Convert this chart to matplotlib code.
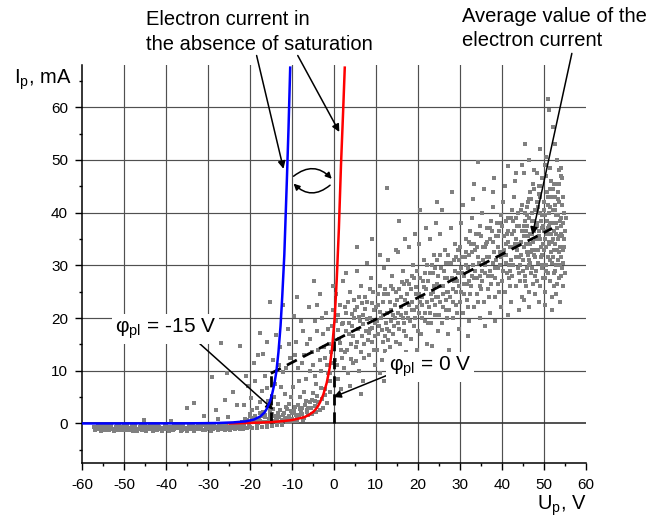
import matplotlib
matplotlib.use('Agg')
import matplotlib.pyplot as plt
import numpy as np

plt.rcParams['font.family'] = ['Liberation Sans', 'DejaVu Sans']
plt.rcParams['mathtext.fontset'] = 'custom'
plt.rcParams['mathtext.rm'] = 'Liberation Sans'
plt.rcParams['mathtext.it'] = 'Liberation Sans:italic'
plt.rcParams['axes.unicode_minus'] = False

# probe current vs probe voltage
# flat part below zero
cloud_flat = [
    (-57.2, -0.6), (-56.5, -1.1), (-56.0, -0.3), (-55.4, -1.4), (-54.8, -0.8), (-54.1, -0.2), (-53.6, -1.2),
    (-53.0, -0.6), (-52.3, -1.5), (-51.7, -0.4), (-51.1, -1.0), (-50.4, -0.7), (-49.8, -1.3), (-49.2, -0.3),
    (-48.5, -0.9), (-47.9, -1.5), (-47.3, -0.5), (-46.6, -1.1), (-46.0, -0.2), (-45.4, -0.8), (-44.7, -1.4),
    (-44.1, -0.6), (-43.5, -1.0), (-42.8, -0.3), (-42.2, -1.2), (-41.6, -0.7), (-40.9, -1.5), (-40.3, -0.4),
    (-39.7, -1.0), (-39.0, -0.6), (-38.4, -1.3), (-37.8, -0.2), (-37.1, -0.9), (-36.5, -1.4), (-35.9, -0.5),
    (-35.2, -1.1), (-34.6, -0.3), (-34.0, -0.8), (-33.3, -1.4), (-32.7, -0.6), (-32.1, -1.0), (-31.4, -0.2),
    (-30.8, -1.2), (-30.2, -0.7), (-29.5, -0.4), (-28.9, -1.1), (-28.3, -0.6), (-27.6, -1.3), (-27.0, -0.3),
    (-26.4, -0.9), (-25.7, -0.5), (-25.1, -1.0), (-24.5, -0.2), (-23.8, -0.7), (-23.2, 0.1), (-22.6, -0.4),
    (-56.8, -0.9), (-55.0, -0.5), (-53.3, -0.9), (-51.4, -1.3), (-49.5, -0.6), (-47.6, -1.0), (-45.7, -1.3),
    (-43.8, -0.4), (-42.0, -0.8), (-40.0, -1.1), (-38.1, -0.5), (-36.2, -1.2), (-34.3, -1.1), (-32.4, -0.3),
    (-30.5, -1.0), (-28.6, -0.9), (-26.7, -1.1), (-24.8, -0.6), (-23.5, -1.0),
    (-57.0, -1.2), (-56.3, -0.5), (-55.7, -0.9), (-55.1, -0.2), (-54.5, -1.3), (-53.9, -0.7), (-53.2, -0.3),
    (-52.6, -1.0), (-52.0, -0.6), (-51.3, -0.2), (-50.7, -1.2), (-50.1, -0.4), (-49.4, -0.9), (-48.8, -1.2),
    (-48.2, -0.4), (-47.5, -0.7), (-46.9, -1.4), (-46.3, -0.6), (-45.6, -1.0), (-45.0, -0.4), (-44.4, -1.1),
    (-43.7, -0.8), (-43.1, -1.4), (-42.5, -0.6), (-41.9, -0.3), (-41.2, -1.0), (-40.6, -0.8), (-40.0, -0.3),
    (-39.3, -1.4), (-38.7, -0.8), (-38.1, -1.0), (-37.4, -0.6), (-36.8, -0.3), (-36.2, -0.8), (-35.5, -0.9),
    (-34.9, -1.4), (-34.3, -0.6), (-33.6, -0.3), (-33.0, -1.1), (-32.4, -0.9), (-31.7, -0.6), (-31.1, -1.3),
    (-30.5, -0.4), (-29.8, -0.9), (-29.2, -1.4), (-28.6, -0.3), (-27.9, -0.8), (-27.3, -0.5), (-26.7, -0.4),
    (-26.0, -1.2), (-25.4, -0.7), (-24.8, -1.3), (-24.2, -0.9), (-23.6, -0.4), (-23.0, -0.8), (-22.4, -1.1),
    (-21.8, -0.2), (-21.1, -0.8), (-20.5, 0.2), (-19.9, -0.6),
    (-45.2, 0.6), (-38.7, 0.4), (-33.4, 3.9), (-34.9, 3.0), (-27.5, 0.8), (-25.3, 1.2), (-29.0, 8.9),
    (-26.9, 15.3), (-31.0, 1.5), (-28.0, 2.5), (-26.0, 4.5), (-24.0, 6.0), (-22.3, 14.6), (-25.5, 9.5),
]
# knee region
cloud_knee = [
    (-22.0, 0.3), (-21.4, -0.5), (-20.8, 0.6), (-20.2, -0.2), (-19.6, 1.0), (-19.0, 0.2), (-18.4, -0.4),
    (-17.8, 0.8), (-17.2, 1.5), (-16.6, 0.3), (-16.0, -0.3), (-15.4, 0.9), (-14.8, 1.8), (-14.2, 0.4),
    (-13.6, -0.2), (-13.0, 1.2), (-12.4, 0.6), (-11.8, 2.0), (-11.2, 0.2), (-10.6, 1.4), (-10.0, 0.8),
    (-9.4, 2.4), (-8.8, 0.5), (-8.2, 1.7), (-7.6, 3.0), (-7.0, 1.1), (-6.4, 2.6), (-5.8, 4.0), (-5.2, 1.8),
    (-4.6, 3.4), (-4.0, 5.2), (-3.4, 2.6), (-2.8, 4.6), (-2.2, 6.5), (-1.6, 3.8), (-1.0, 8.0),
    (-21.5, 3.5), (-20.5, 7.2), (-19.8, 4.8), (-19.0, 11.5), (-18.3, 3.0), (-17.5, 17.1), (-17.0, 6.2),
    (-16.3, 9.0), (-15.8, 4.2), (-15.1, 23.1), (-14.6, 12.0), (-14.0, 7.5), (-13.4, 3.6), (-12.8, 14.5),
    (-12.2, 9.8), (-11.6, 5.5), (-11.0, 18.0), (-10.4, 12.5), (-9.8, 7.0), (-9.6, 20.3), (-9.0, 15.5),
    (-8.5, 10.5), (-8.0, 5.0), (-7.4, 17.5), (-7.0, 13.0), (-6.6, 8.5), (-6.0, 22.0), (-5.6, 16.0),
    (-5.0, 11.0), (-4.6, 19.5), (-4.2, 7.5), (-3.8, 14.0), (-3.2, 24.5), (-3.0, 10.0), (-2.5, 17.0),
    (-2.0, 12.5), (-1.8, 21.0), (-1.2, 15.0), (-0.8, 9.5), (-0.4, 18.5), (-0.2, 26.0), (-13.8, 16.8),
    (-18.8, 8.0), (-16.8, 13.2), (-10.8, 3.6), (-6.2, 3.0), (-8.7, 24.0), (-4.8, 27.0), (-12.0, 22.5),
    (-19.3, 0.6), (-18.7, 1.5), (-18.1, 0.1), (-17.5, 0.5), (-16.9, 2.2), (-16.3, 1.2), (-15.7, 0.2),
    (-15.1, 1.6), (-14.5, 2.8), (-13.9, 0.9), (-13.3, 2.0), (-12.7, 0.3), (-12.1, 1.6), (-11.5, 3.2),
    (-10.9, 1.0), (-10.3, 2.4), (-9.7, 0.4), (-9.1, 1.6), (-8.5, 3.5), (-7.9, 2.2), (-7.3, 0.7), (-6.7, 4.2),
    (-6.1, 1.6), (-5.5, 2.9), (-4.9, 5.8), (-4.3, 2.2), (-3.7, 4.0), (-3.1, 6.8), (-2.6, 3.0), (-2.0, 5.4),
    (-1.4, 9.5), (-0.8, 6.0), (-0.3, 11.5),
    (-19.5, 2.5), (-17.7, 4.0), (-16.0, 6.8), (-14.3, 5.0), (-12.6, 7.0), (-11.3, 10.5), (-10.1, 5.0),
    (-9.3, 13.0), (-8.2, 8.0), (-7.7, 11.5), (-7.1, 6.0), (-6.4, 15.0), (-5.8, 10.0), (-5.3, 13.5),
    (-4.4, 9.0), (-3.9, 17.5), (-3.4, 12.0), (-2.9, 20.0), (-2.3, 14.5), (-1.7, 11.0), (-1.3, 18.0),
    (-0.7, 13.5), (-0.1, 21.5), (-4.0, 22.5), (-7.8, 19.5), (-10.7, 15.0), (-13.1, 11.0), (-15.9, 15.5),
    (-18.0, 13.0), (-21.0, 9.0), (-23.0, 3.5), (-20.0, 1.8),
    (-21.7, -1.0), (-21.2, 0.9), (-20.6, -0.9), (-19.9, 1.5), (-19.4, -0.8), (-18.9, 0.9), (-18.3, -0.9),
    (-17.6, 2.0), (-17.0, -0.7), (-16.4, 1.7), (-15.9, -0.6), (-15.3, 2.4), (-14.7, -0.5), (-14.0, 1.4),
    (-13.5, 0.5), (-12.9, 2.6), (-12.3, -0.3), (-11.7, 1.0), (-11.1, 2.8), (-10.5, 0.2), (-9.9, 1.9),
    (-9.3, 3.2), (-8.7, 1.3), (-8.1, 2.7), (-7.5, 1.8), (-6.9, 3.5), (-6.3, 2.2), (-5.7, 3.0), (-5.1, 4.5),
    (-4.5, 4.2),
]
# main cloud after the knee
cloud_main = [
    (0.3, 12.0), (0.6, 19.5), (0.9, 8.5), (1.2, 16.0), (1.5, 22.5), (1.8, 14.0), (2.1, 27.0), (2.4, 10.5),
    (0.5, 24.5), (1.0, 17.8), (1.7, 6.5), (2.2, 19.0),
    (2.7, 13.5), (3.0, 21.0), (3.3, 9.5), (3.6, 17.0), (3.9, 25.0), (4.2, 15.0), (4.5, 11.5), (4.8, 20.0),
    (2.9, 28.5), (3.8, 7.2), (4.4, 18.5), (4.9, 23.5),
    (5.2, 14.5), (5.5, 22.0), (5.8, 18.0), (6.1, 10.0), (6.4, 26.0), (6.7, 16.5), (7.0, 20.5), (7.3, 12.5),
    (5.4, 29.0), (6.2, 19.5), (6.9, 8.0), (7.4, 24.0),
    (7.7, 17.5), (8.0, 23.0), (8.3, 13.0), (8.6, 20.0), (8.9, 27.5), (9.2, 15.5), (9.5, 21.5), (9.8, 11.0),
    (7.9, 30.5), (8.7, 18.0), (9.4, 25.0), (9.9, 19.0),
    (10.2, 14.0), (10.5, 22.5), (10.8, 18.5), (11.1, 26.0), (11.4, 12.0), (11.7, 20.5), (12.0, 29.5),
    (12.3, 16.5), (10.4, 24.5), (11.0, 9.5), (11.8, 23.0), (12.4, 19.0), (10.9, 32.0), (11.6, 15.5),
    (12.7, 18.0), (13.0, 24.5), (13.3, 14.5), (13.6, 21.5), (13.9, 28.0), (14.2, 17.0), (14.5, 22.5),
    (14.8, 12.5), (12.9, 31.0), (13.5, 19.5), (14.0, 25.5), (14.6, 20.0), (13.2, 10.5), (14.9, 33.0),
    (15.2, 19.0), (15.5, 25.5), (15.8, 15.0), (16.1, 22.0), (16.4, 29.0), (16.7, 17.5), (17.0, 23.5),
    (17.3, 13.5), (15.4, 32.5), (16.0, 20.5), (16.6, 26.5), (17.2, 21.0), (15.9, 11.5), (16.9, 35.0),
    (17.7, 20.0), (18.0, 26.5), (18.3, 16.0), (18.6, 23.0), (18.9, 30.0), (19.2, 18.5), (19.5, 24.5),
    (19.8, 14.0), (17.9, 33.5), (18.5, 21.5), (19.1, 27.5), (19.7, 22.0), (18.2, 12.5), (19.4, 36.0),
    (20.2, 21.0), (20.5, 27.5), (20.8, 17.0), (21.1, 24.0), (21.4, 31.0), (21.7, 19.5), (22.0, 25.5),
    (22.3, 15.0), (20.4, 34.0), (21.0, 22.5), (21.6, 28.5), (22.2, 23.0), (20.7, 13.0), (21.9, 37.0),
    (22.7, 22.0), (23.0, 28.5), (23.4, 14.6), (23.6, 25.0), (23.9, 32.0), (24.2, 20.5), (24.5, 26.5),
    (24.8, 17.5), (22.9, 35.0), (23.5, 23.5), (24.1, 29.5), (24.7, 24.0), (23.2, 19.0), (24.4, 38.0),
    (25.2, 23.0), (25.5, 29.5), (25.8, 19.0), (26.1, 26.0), (26.4, 33.0), (26.7, 21.5), (27.0, 27.5),
    (27.3, 17.0), (25.4, 36.0), (26.0, 24.5), (26.6, 30.5), (27.2, 25.0), (25.7, 40.5), (26.9, 20.0),
    (27.7, 24.0), (28.0, 30.5), (28.3, 20.0), (28.6, 27.0), (28.9, 34.0), (29.2, 22.5), (29.5, 28.5),
    (29.8, 18.0), (27.9, 37.0), (28.5, 25.5), (29.1, 31.5), (29.7, 26.0), (28.2, 44.0), (29.4, 21.0),
    (30.2, 25.0), (30.5, 31.5), (30.8, 21.0), (31.1, 28.0), (31.4, 35.0), (31.7, 23.5), (32.0, 29.5),
    (32.3, 19.5), (30.4, 38.0), (31.0, 26.5), (31.6, 32.5), (32.2, 27.0), (30.7, 41.5), (31.9, 22.0),
    (30.1, 33.5), (32.4, 36.5),
    (32.7, 26.0), (33.0, 32.5), (33.3, 22.0), (33.6, 29.0), (33.9, 36.0), (34.2, 24.5), (34.5, 30.5),
    (34.8, 20.0), (32.9, 39.0), (33.5, 27.5), (34.1, 33.5), (34.7, 28.0), (33.2, 42.5), (34.4, 23.0),
    (32.6, 34.0), (34.9, 37.5),
    (35.2, 27.0), (35.5, 33.5), (35.8, 23.0), (36.1, 30.0), (36.4, 37.0), (36.7, 25.5), (37.0, 31.5),
    (37.3, 21.0), (35.4, 40.0), (36.0, 28.5), (36.6, 34.5), (37.2, 29.0), (35.7, 44.5), (36.9, 24.0),
    (35.1, 35.5), (37.4, 38.5),
    (37.7, 28.0), (38.0, 34.5), (38.3, 24.0), (38.6, 31.0), (38.9, 38.0), (39.2, 26.5), (39.5, 32.5),
    (39.8, 22.0), (37.9, 41.0), (38.5, 29.5), (39.1, 35.5), (39.7, 30.0), (38.2, 46.5), (39.4, 25.0),
    (37.6, 36.5), (39.9, 39.5),
    (40.2, 29.0), (40.5, 35.5), (40.8, 25.0), (41.1, 32.0), (41.4, 39.0), (41.7, 27.5), (42.0, 33.5),
    (42.3, 23.0), (40.4, 42.0), (41.0, 30.5), (41.6, 36.5), (42.2, 31.0), (40.7, 45.0), (41.9, 26.0),
    (40.1, 37.5), (42.4, 40.5), (41.3, 28.5), (40.9, 34.0),
    (42.7, 30.0), (43.0, 36.5), (43.3, 26.0), (43.6, 33.0), (43.9, 40.0), (44.2, 28.5), (44.5, 34.5),
    (44.8, 24.0), (42.9, 43.0), (43.5, 31.5), (44.1, 37.5), (44.7, 32.0), (43.2, 46.0), (44.4, 27.0),
    (42.6, 38.5), (44.9, 41.5), (43.8, 29.5), (43.4, 35.0),
    (45.1, 31.0), (45.3, 37.5), (45.5, 27.0), (45.7, 34.0), (45.9, 41.0), (46.1, 29.5), (46.3, 35.5),
    (46.5, 25.0), (46.7, 44.0), (46.9, 32.5), (47.1, 38.5), (47.3, 33.0), (45.2, 47.5), (45.6, 28.0),
    (46.0, 39.5), (46.4, 42.5), (46.8, 30.5), (47.2, 36.0), (47.4, 26.5), (45.4, 23.5), (45.8, 36.5),
    (46.2, 32.0), (46.6, 39.0), (47.0, 28.5), (46.4, 50.0),
    (47.6, 32.0), (47.8, 38.5), (48.0, 28.0), (48.2, 35.0), (48.4, 42.0), (48.6, 30.5), (48.8, 36.5),
    (49.0, 26.0), (49.2, 45.0), (49.4, 33.5), (49.6, 39.5), (49.8, 34.0), (47.7, 48.0), (48.1, 29.0),
    (48.5, 40.5), (48.9, 43.5), (49.3, 31.5), (49.7, 37.0), (49.9, 27.5), (47.9, 24.5), (48.3, 37.5),
    (48.7, 33.0), (49.1, 40.0), (49.5, 29.5), (49.0, 52.0),
    (50.1, 33.0), (50.3, 39.5), (50.5, 29.0), (50.7, 36.0), (50.9, 43.0), (51.1, 31.5), (51.3, 37.5),
    (51.5, 27.0), (51.7, 46.0), (51.9, 34.5), (52.1, 40.5), (52.3, 35.0), (50.2, 49.0), (50.6, 30.0),
    (51.0, 41.5), (51.4, 44.5), (51.8, 32.5), (52.2, 38.0), (52.4, 28.5), (50.4, 25.0), (50.8, 38.5),
    (51.2, 34.0), (51.6, 41.0), (52.0, 30.5), (51.0, 61.5), (51.3, 59.5), (50.5, 47.0), (51.9, 24.0),
    (52.4, 45.5), (50.0, 36.5),
    (52.6, 34.0), (52.8, 40.5), (53.0, 30.0), (53.2, 37.0), (53.4, 44.0), (53.6, 32.5), (53.8, 38.5),
    (54.0, 28.0), (54.2, 47.0), (54.4, 35.5), (52.7, 41.5), (52.9, 36.0), (53.1, 50.0), (53.3, 31.0),
    (53.5, 42.5), (53.7, 45.5), (53.9, 33.5), (54.1, 39.0), (54.3, 29.5), (52.5, 26.0), (52.9, 39.5),
    (53.3, 35.0), (53.7, 42.0), (54.1, 31.5), (54.5, 43.0), (54.6, 38.0), (54.8, 33.5), (53.0, 24.5),
    (54.0, 48.5), (52.8, 53.0),
    (12.7, 44.6), (34.4, 49.6), (41.4, 48.8), (44.8, 49.1), (45.5, 53.1), (52.1, 56.2),
]
# extra points in the densest part of the band
cloud_core = [
    (0.8, 11.0), (1.4, 15.2), (2.0, 18.8), (2.6, 22.0), (3.1, 14.0), (3.5, 19.0), (4.0, 12.2), (4.6, 16.5),
    (5.0, 21.5), (5.6, 15.5), (6.0, 24.0), (6.5, 13.5), (6.9, 18.8), (7.5, 21.8), (8.1, 15.8), (8.5, 25.5),
    (9.0, 18.2), (9.6, 14.0), (10.0, 22.0), (10.6, 17.0), (11.2, 20.0), (11.9, 24.5), (12.2, 13.8),
    (12.6, 21.0), (13.1, 17.5), (13.7, 26.0), (14.1, 20.5), (14.7, 15.5), (15.0, 23.5), (15.6, 18.0),
    (16.2, 26.8), (16.5, 20.0), (17.1, 16.5), (17.5, 24.5), (18.1, 19.5), (18.7, 28.0), (19.0, 21.5),
    (19.6, 25.8), (20.0, 17.5), (20.6, 23.0), (21.2, 27.0), (21.8, 21.0), (22.1, 30.0), (22.5, 19.0),
    (23.1, 24.5), (23.7, 28.5), (24.0, 22.5), (24.6, 31.0), (25.0, 20.5), (25.6, 26.0), (26.2, 29.0),
    (26.8, 23.5), (27.1, 32.0), (27.5, 21.5), (28.1, 27.5), (28.7, 31.0), (29.0, 25.0), (29.6, 33.0),
    (30.0, 23.0), (30.6, 28.5), (31.2, 31.5), (31.8, 26.5), (32.1, 34.5), (32.5, 24.5), (33.1, 30.0),
    (33.7, 33.0), (34.0, 27.5), (34.6, 36.0), (35.0, 25.5), (35.6, 31.0), (36.2, 34.0), (36.8, 28.0),
    (37.1, 37.0), (37.5, 26.5), (38.1, 32.5), (38.7, 35.5), (39.0, 29.5), (39.6, 38.0), (40.0, 27.0),
    (40.6, 33.0), (41.2, 36.0), (41.8, 30.0), (42.1, 39.0), (42.5, 28.0), (43.1, 34.0), (43.7, 37.5),
    (44.0, 31.5), (44.6, 40.5), (45.0, 29.0), (45.3, 35.5), (45.6, 38.5), (45.9, 32.5), (46.2, 42.0),
    (46.5, 30.0), (46.8, 36.0), (47.1, 40.0), (47.4, 34.5), (47.7, 44.5), (48.0, 31.5), (48.3, 38.0),
    (48.6, 41.0), (48.9, 35.5), (49.2, 43.0), (49.5, 32.0), (49.8, 37.5), (50.1, 40.5), (50.4, 35.0),
    (50.7, 44.0), (51.0, 28.5), (51.3, 34.5), (51.6, 38.0), (51.9, 43.0), (52.2, 31.5), (52.5, 36.5),
    (52.8, 45.5), (53.1, 33.0), (53.4, 39.5), (53.7, 27.5), (54.0, 36.0), (54.3, 41.5), (54.6, 30.5),
    (54.9, 35.0), (55.2, 39.0), (55.0, 28.5), (54.4, 46.5), (53.6, 48.0), (52.6, 43.0), (51.5, 48.5),
    (50.6, 50.5), (49.6, 46.5), (48.4, 47.5), (47.4, 45.5), (50.2, 22.5), (52.0, 21.5), (53.8, 23.0),
    (48.8, 23.0), (46.4, 22.0), (44.2, 21.5), (41.5, 20.5), (38.5, 19.5),
    (5.5, 33.5), (9.0, 35.0), (15.5, 38.5), (20.5, 40.5), (24.5, 42.0), (33.5, 45.5), (38.0, 44.0),
    (43.5, 47.5), (6.5, 5.5), (12.0, 8.0), (18.5, 10.0), (27.5, 14.0), (32.0, 16.5), (36.0, 18.5),
    (45.2, 33.5), (45.5, 40.0), (45.8, 26.0), (46.1, 37.5), (46.4, 31.0), (46.7, 34.0), (47.0, 42.5),
    (47.3, 29.5), (47.6, 36.5), (47.9, 40.5), (48.2, 33.0), (48.5, 27.0), (48.8, 45.0), (49.1, 35.0),
    (49.4, 38.5), (49.7, 30.0), (50.0, 42.0), (50.3, 27.5), (50.6, 33.5), (50.9, 37.0), (51.2, 40.0),
    (51.5, 31.0), (51.8, 36.0), (52.1, 44.5), (52.4, 33.0), (52.7, 29.0), (53.0, 38.0), (53.3, 42.5),
    (53.6, 35.5), (53.9, 30.0), (54.2, 37.5), (54.5, 33.0), (54.8, 40.0), (53.2, 26.5), (54.7, 26.0),
    (55.1, 36.5),
    (1.1, 20.5), (1.9, 12.5), (2.8, 17.5), (3.4, 23.0), (4.3, 20.8), (5.3, 11.8), (5.9, 20.2), (6.6, 22.8),
    (7.2, 15.0), (7.8, 19.8), (8.4, 17.2), (9.1, 22.8), (9.7, 16.5), (10.3, 19.5), (10.9, 21.2),
    (11.5, 17.8), (12.1, 25.5), (12.8, 15.8), (13.4, 23.0), (14.3, 18.5), (14.9, 25.0), (15.3, 21.0),
    (15.9, 24.0), (16.8, 19.0), (17.4, 27.0), (17.9, 22.5), (18.4, 25.5), (19.3, 20.0), (19.9, 29.0),
    (20.3, 24.5), (20.9, 20.0), (21.5, 25.8), (22.4, 27.0), (22.9, 21.0), (23.3, 30.0), (23.8, 26.0),
    (24.3, 24.0), (24.9, 28.0), (25.3, 32.0), (25.9, 22.0), (26.5, 27.5), (27.0, 25.0), (27.6, 30.5),
    (28.4, 23.0), (28.8, 29.0), (29.3, 27.0), (29.9, 31.0), (30.3, 29.5), (30.9, 24.5), (31.5, 30.0),
    (32.2, 32.0), (32.8, 28.0), (33.4, 34.0), (34.3, 31.5), (34.8, 26.0), (35.3, 29.0), (35.9, 33.5),
    (36.5, 31.5), (37.3, 35.0), (37.8, 30.5), (38.4, 27.5), (39.0, 33.5), (39.3, 36.5), (39.9, 31.5),
    (40.3, 32.0), (40.9, 38.5), (41.5, 34.5), (42.0, 29.0), (42.4, 36.0), (42.9, 33.5), (43.3, 39.0),
    (43.9, 34.0), (44.3, 30.0), (44.9, 36.5),
]

# exponential branches (electron current without saturation)
blue_u = [-60, -35, -28, -24, -21, -19, -17.5, -16.5, -15.9, -15.2, -14.7, -14.2, -13.7, -13.2, -12.7,
          -12.3, -11.8, -11.2, -10.8, -10.4]
blue_i = [0, 0.02, 0.08, 0.2, 0.4, 0.75, 1.35, 2.1, 2.9, 4.2, 5.6, 7.4, 9.8, 13.5, 18.5,
          24, 32, 46, 56, 67.5]
red_u = [-25, -20, -15, -12, -10, -8.8, -7, -6, -4.9, -4, -3.3, -2.5, -1.7, -1, -0.4, 0.2, 0.7, 1.2,
         1.7, 2.2, 2.6]
red_i = [0.02, 0.1, 0.25, 0.45, 0.65, 0.85, 1.2, 1.6, 2.2, 3.0, 4.0, 5.5, 7.7, 10.5, 14.5, 20, 27.5, 37,
         49, 59, 67.5]

# average electron current
avg_u = [-15, 52]
avg_i = [9.5, 37]

# plasma potential marks
phi_u = [-15, 0]
phi_top = [9.5, 15.6]

W, H = 654, 517


def fx(x):
    return x / W


def fy(y):
    return 1 - y / H


fig = plt.figure(figsize=(W / 100, H / 100), dpi=100)
ax = fig.add_axes([fx(82), fy(463), fx(585.7) - fx(82), fy(65) - fy(463)])
ax.set_xlim(-60, 60)
ax.set_ylim(-7.5, 68)

# grid
for u in np.arange(-50, 51, 10):
    ax.axvline(u, color='#505050', lw=0.85, zorder=0)
for i in np.arange(10, 61, 10):
    ax.axhline(i, color='#505050', lw=0.85, zorder=0)
ax.axhline(0, color='#333333', lw=1.2, zorder=0)

cu, ci = zip(*(cloud_flat + cloud_knee + cloud_main + cloud_core))
ax.scatter(cu, ci, s=8, marker='s', c='#808080', linewidths=0, zorder=2)

ax.plot(avg_u, avg_i, color='k', lw=2, dashes=(4, 2.5), zorder=3)
for u, top in zip(phi_u, phi_top):
    ax.plot([u, u], [0, top], color='k', lw=2, dashes=(4, 2.5), zorder=3)

ax.plot(red_u, red_i, color='red', lw=1.8, zorder=4)
ax.plot(blue_u, blue_i, color='blue', lw=1.8, zorder=5)

# axes style
for s in ['top', 'right']:
    ax.spines[s].set_visible(False)
for s in ['left', 'bottom']:
    ax.spines[s].set_linewidth(1.1)
ax.set_xticks(np.arange(-60, 61, 10))
ax.set_xticks(np.arange(-55, 60, 10), minor=True)
ax.set_yticks(np.arange(0, 61, 10))
ax.set_yticks(np.arange(-5, 66, 10), minor=True)
ax.tick_params(which='major', direction='out', length=5, width=1, labelsize=11)
ax.tick_params(which='minor', direction='out', length=2.5, width=1)
ax.tick_params(axis='x', which='major', pad=6)
ax.tick_params(axis='y', which='major', pad=5)

big = 14.5
fig.text(fx(72), fy(83.5), r'I$_{\mathrm{p}}$, mA', fontsize=big, ha='right', va='baseline')
fig.text(fx(587), fy(510), r'U$_{\mathrm{p}}$, V', fontsize=big, ha='right', va='baseline')

# annotations
fig.text(fx(146), fy(25), 'Electron current in', fontsize=big, ha='left', va='baseline')
fig.text(fx(146), fy(50), 'the absence of saturation', fontsize=big, ha='left', va='baseline')
fig.text(fx(462), fy(21.5), 'Average value of the', fontsize=big, ha='left', va='baseline')
fig.text(fx(462), fy(46.5), 'electron current', fontsize=big, ha='left', va='baseline')

arrow = dict(arrowstyle='-|>', color='k', lw=1.1, shrinkA=0, shrinkB=0, mutation_scale=11)
ax.annotate('', xy=(-12.0, 48.3), xytext=(-18.4, 69.8), arrowprops=arrow, annotation_clip=False)
ax.annotate('', xy=(1.3, 55.3), xytext=(-8.6, 69.8), arrowprops=arrow, annotation_clip=False)
ax.annotate('', xy=(47.3, 35.8), xytext=(56.7, 70.2), arrowprops=arrow, annotation_clip=False)
ax.annotate('', xy=(-14.4, 2.6), xytext=(-32.6, 15.6), arrowprops=arrow)
ax.annotate('', xy=(-0.1, 5.0), xytext=(12.9, 9.2), arrowprops=arrow)

curl = dict(arrow, connectionstyle='arc3,rad=-0.45', mutation_scale=9)
ax.annotate('', xy=(-0.5, 46.4), xytext=(-9.6, 46.9), arrowprops=curl)
ax.annotate('', xy=(-9.6, 45.5), xytext=(-0.9, 45.2), arrowprops=curl)

box = dict(facecolor='white', edgecolor='none', pad=2)
fig.text(fx(115), fy(333), r'φ$_{\mathrm{pl}}$ = -15 V', fontsize=15, va='baseline', bbox=box)
fig.text(fx(389), fy(371), r'φ$_{\mathrm{pl}}$ = 0 V', fontsize=15, va='baseline', bbox=box)

fig.savefig('out.png', dpi=100)
